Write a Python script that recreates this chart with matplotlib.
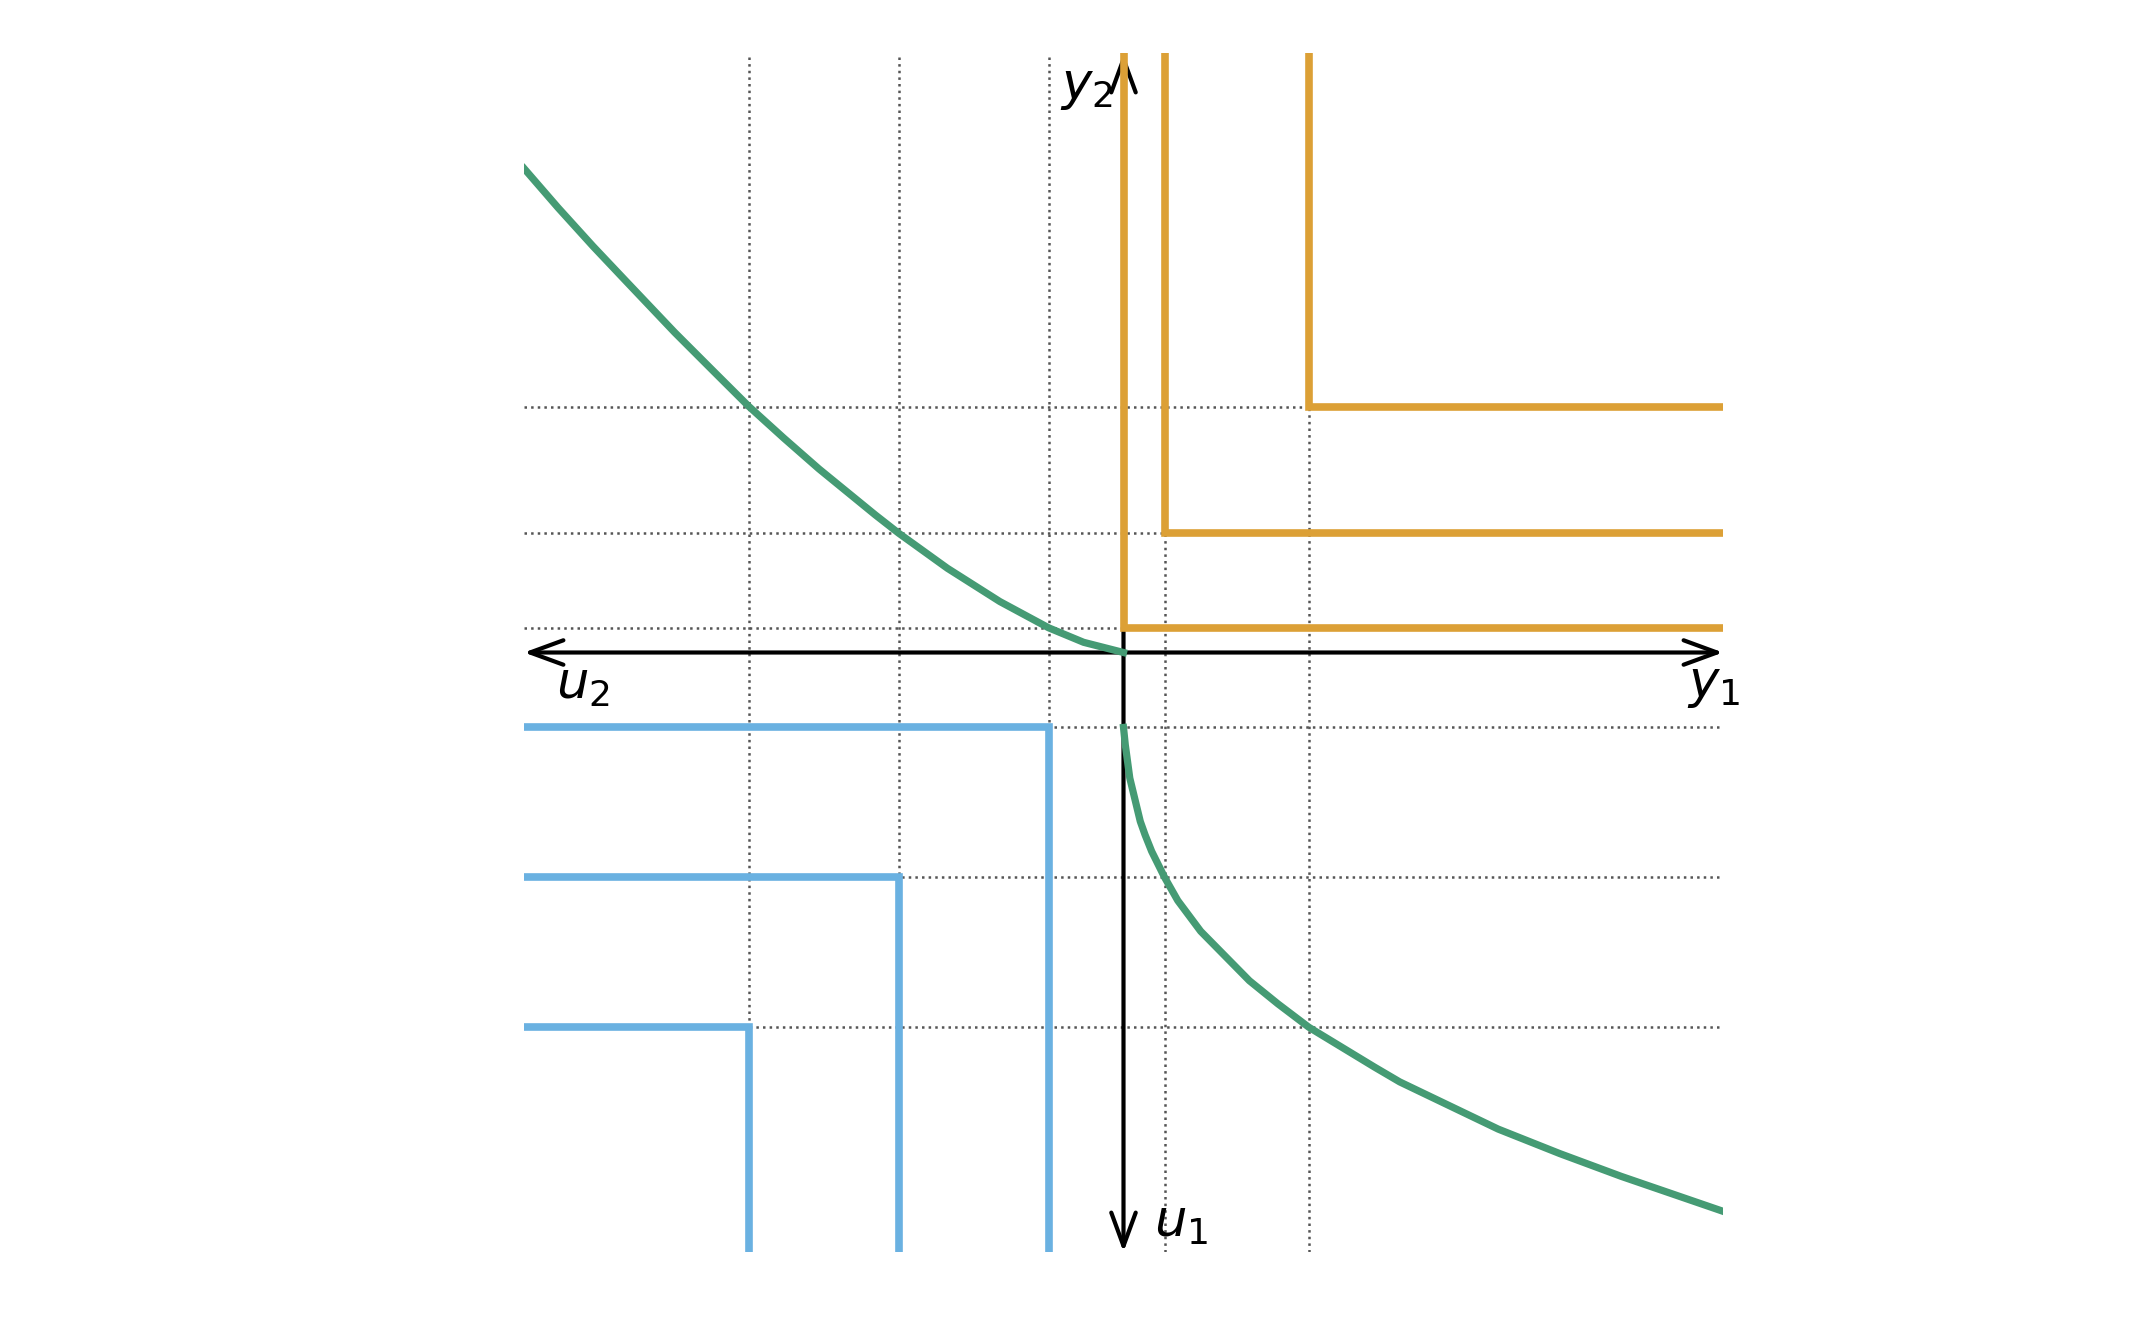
import matplotlib
matplotlib.use("Agg")
import matplotlib.pyplot as plt

# ---- data ----
# Upper-left curve: u2 (drawn to the left, negative x) vs y2
ul_u2 = [4.0, 3.773, 3.539, 3.331, 2.994, 2.734, 2.5, 2.266, 2.032, 1.656, 1.5,
         1.175, 0.825, 0.5, 0.266, 0.0]
ul_y2 = [3.23, 2.968, 2.71, 2.49, 2.135, 1.875, 1.642, 1.43, 1.225, 0.918, 0.796,
         0.562, 0.34, 0.165, 0.068, 0.0]

# Lower-right curve: y1 vs u1 (drawn downward, negative y)
lr_y1 = [0.0, 0.012, 0.042, 0.112, 0.144, 0.188, 0.274, 0.362, 0.515, 0.84, 1.03,
         1.236, 1.676, 1.843, 2.50, 2.91, 3.32, 3.99]
lr_u1 = [0.5, 0.616, 0.838, 1.127, 1.217, 1.327, 1.5, 1.655, 1.86, 2.19, 2.344,
         2.5, 2.767, 2.865, 3.18, 3.343, 3.495, 3.725]

# Leontief corners
blue_corners = [0.5, 1.5, 2.5]                     # (u2, u1) levels
orange_y1 = [0.0, 0.274, 1.236]
orange_y2 = [0.163, 0.796, 1.638]

LIM = 4.0
c_orange = "#DCA036"
c_blue = "#6AB1E1"
c_green = "#459B74"

fig = plt.figure(figsize=(21.52, 13.30), dpi=100)
ax = fig.add_axes([524 / 2152, (1330 - 1252) / 1330, 1199 / 2152, 1199 / 1330])
ax.set_xlim(-LIM, LIM)
ax.set_ylim(-LIM, LIM)

# grid at corner levels
xt = [-b for b in blue_corners] + orange_y1[1:]
yt = [-b for b in blue_corners] + orange_y2
ax.set_xticks(xt)
ax.set_yticks(yt)
ax.tick_params(length=0, labelbottom=False, labelleft=False)
ax.grid(True, ls=":", lw=1.8, color="#555555")
for s in ax.spines.values():
    s.set_visible(False)

# axes arrows
arrow_kw = dict(arrowstyle="->,head_length=0.6,head_width=0.22", lw=3, color="k",
                shrinkA=0, shrinkB=0, mutation_scale=40)
for tip in [(LIM, 0), (-LIM, 0), (0, LIM), (0, -LIM)]:
    ax.annotate("", xy=tip, xytext=(0, 0), arrowprops=arrow_kw,
                annotation_clip=False, zorder=2)

lw = 5.5
# orange L-shapes (upper right)
for x0, y0 in zip(orange_y1, orange_y2):
    ax.plot([x0, x0, LIM], [LIM, y0, y0], color=c_orange, lw=lw,
            solid_capstyle="butt", solid_joinstyle="miter", zorder=4)
# blue L-shapes (lower left)
for b in blue_corners:
    ax.plot([-LIM, -b, -b], [-b, -b, -LIM], color=c_blue, lw=lw,
            solid_capstyle="butt", solid_joinstyle="miter", zorder=4)
# green curves
ax.plot([-u for u in ul_u2], ul_y2, color=c_green, lw=5.2, zorder=5,
        solid_joinstyle="round")
ax.plot(lr_y1, [-u for u in lr_u1], color=c_green, lw=5.2, zorder=5,
        solid_joinstyle="round")

fs = 37
ax.text(-0.073, 3.773, r"$y_2$", fontsize=fs, ha="right", va="center")
ax.text(-3.606, -0.214, r"$u_2$", fontsize=fs, ha="center", va="center")
ax.text(3.937, -0.217, r"$y_1$", fontsize=fs, ha="center", va="center")
ax.text(0.381, -3.806, r"$u_1$", fontsize=fs, ha="center", va="center")

fig.savefig("out.png", dpi=100)
